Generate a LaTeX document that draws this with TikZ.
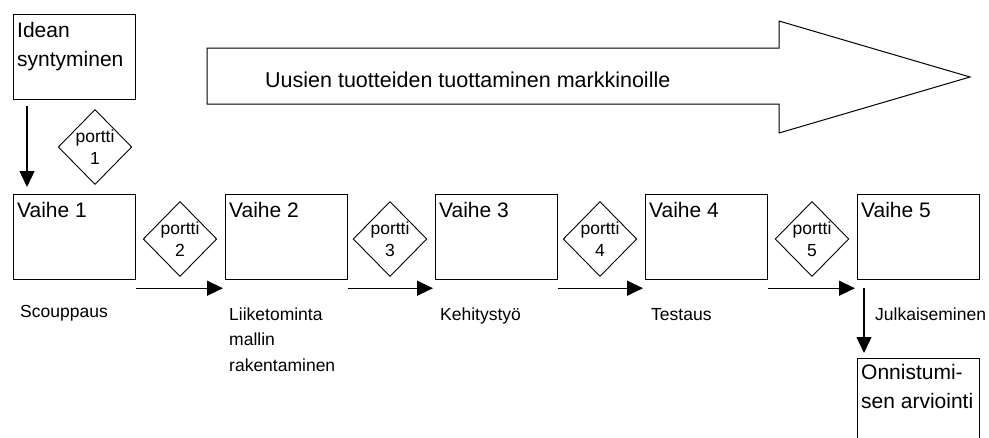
\documentclass[tikz,border=0pt]{standalone}
\usepackage{fontspec}
\setmainfont{Liberation Sans}
\usetikzlibrary{shapes.geometric,arrows.meta}

\begin{document}
\begin{tikzpicture}[x=1pt,y=-1pt,
    vaihe/.style={draw=borderColour, line width=1.2pt, minimum width=122pt, minimum height=85pt, inner sep=0pt, anchor=north west},
    portti/.style={diamond, draw=borderColour, line width=0.9pt, minimum width=73pt, minimum height=75pt, inner sep=0pt, align=center, font=\fontsize{17.5}{22}\selectfont},
    boxtext/.style={anchor=north west, inner sep=0pt, align=left, font=\fontsize{21}{29}\selectfont},
    small/.style={inner sep=0pt, align=left, font=\fontsize{17.5}{25.5}\selectfont},
    flow/.style={draw=borderColour, line width=1.3pt, -{Triangle[length=16pt,width=15pt]}}]

    \definecolor{borderColour}{HTML}{000000}
    \definecolor{fillColour}{HTML}{FFFFFF}

    % Page size
    \clip (0,0) rectangle (989,437);
    \fill[fillColour] (0,0) rectangle (989,437);

    % Define coordinates for the big arrow
    \coordinate (A) at (207,48);
    \coordinate (B) at (779,48);
    \coordinate (C) at (779,21);
    \coordinate (D) at (970,77);
    \coordinate (E) at (779,133);
    \coordinate (F) at (779,104);
    \coordinate (G) at (207,104);

    % Draw big arrow
    \draw[draw=borderColour, line width=1pt] (A) -- (B) -- (C) -- (D) -- (E) -- (F) -- (G) -- cycle;
    \node[anchor=base west, inner sep=0pt, font=\fontsize{21.5}{25}\selectfont] (markkinat) at (265,87) {Uusien tuotteiden tuottaminen markkinoille};

    % Idea box and gate 1
    \node[vaihe] (idea) at (13,14) {};
    \node[boxtext] (ideatext) at ([xshift=4pt,yshift=-8pt]idea.north west) {Idean\\syntyminen};
    \node[portti] (p1) at (95,147) {portti\\1};

    % Draw phases and gates
    \foreach \i/\x in {1/13,2/225,3/435,4/645,5/857}
        \node[vaihe] (v\i) at (\x,194) {};
    \foreach \i in {1,...,5}
        \node[boxtext] (v\i text) at ([xshift=4pt,yshift=-8pt]v\i.north west) {Vaihe \i};
    \foreach \i in {2,...,5}
        \node[portti] (p\i) at ([xshift=-45pt,yshift=-45pt]v\i.north west) {portti\\\i};

    % Draw arrows
    \draw[flow] ([xshift=14pt,yshift=-6pt]idea.south west) -- ([xshift=14pt,yshift=7pt]v1.north west);
    \foreach \a/\b in {1/2,2/3,3/4,4/5}
        \draw[flow] ([yshift=-8pt]v\a.south east) -- ([xshift=-2pt,yshift=-8pt]v\b.south west);

    % Last box
    \node[vaihe] (onn) at (857,358) {};
    \node[boxtext] (onntext) at ([xshift=4pt,yshift=-6pt]onn.north west) {Onnistumi-\\sen arviointi};
    \draw[flow] ([xshift=7pt,yshift=-8pt]v5.south west) -- ([xshift=7pt,yshift=5pt]onn.north west);

    % Labels
    \node[small, anchor=base west] (l1) at ([xshift=7pt,yshift=-37pt]v1.south west) {Scouppaus};
    \node[small, anchor=north west] (l2) at ([xshift=4pt,yshift=-27pt]v2.south west) {Liiketominta\\mallin\\rakentaminen};
    \node[small, anchor=base west] (l3) at ([xshift=5pt,yshift=-40pt]v3.south west) {Kehitystyö};
    \node[small, anchor=base west] (l4) at ([xshift=6pt,yshift=-40pt]v4.south west) {Testaus};
    \node[small, anchor=base west] (l5) at ([xshift=18pt,yshift=-40pt]v5.south west) {Julkaiseminen};

\end{tikzpicture}
\end{document}
